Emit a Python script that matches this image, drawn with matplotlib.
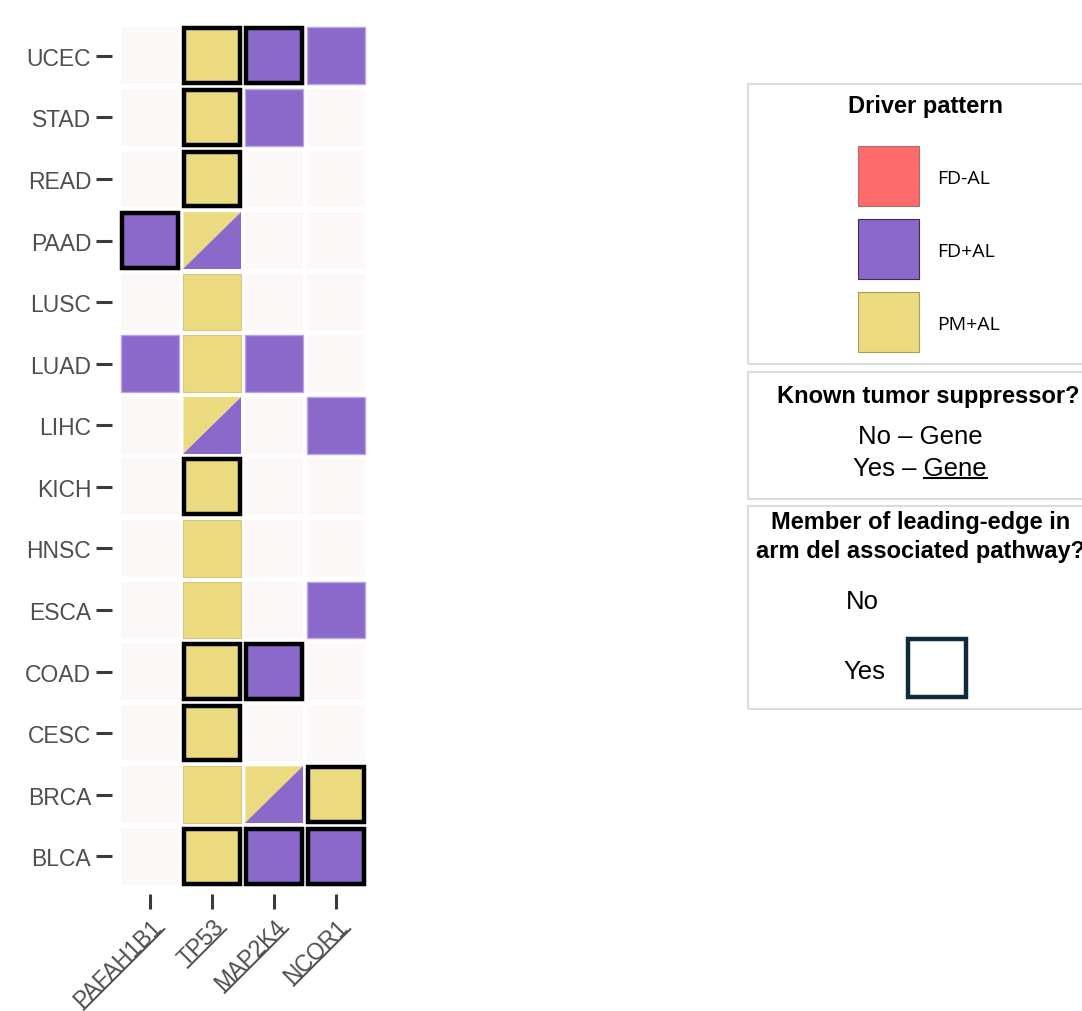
import matplotlib
matplotlib.use("Agg")
import matplotlib.pyplot as plt
from matplotlib.patches import Rectangle, Polygon
from matplotlib.lines import Line2D
import numpy as np

plt.rcParams['font.family'] = ['Liberation Sans', 'DejaVu Sans']

cancer_types = ["UCEC", "STAD", "READ", "PAAD", "LUSC", "LUAD", "LIHC",
                "KICH", "HNSC", "ESCA", "COAD", "CESC", "BRCA", "BLCA"]
genes = ["PAFAH1B1", "TP53", "MAP2K4", "NCOR1"]
tumor_suppressor = [True, True, True, True]

# 0 = none, 1 = FD+AL, 2 = PM+AL, 3 = PM+AL and FD+AL
driver_pattern = [
    [0, 2, 1, 1],  # UCEC
    [0, 2, 1, 0],  # STAD
    [0, 2, 0, 0],  # READ
    [1, 3, 0, 0],  # PAAD
    [0, 2, 0, 0],  # LUSC
    [1, 2, 1, 0],  # LUAD
    [0, 3, 0, 1],  # LIHC
    [0, 2, 0, 0],  # KICH
    [0, 2, 0, 0],  # HNSC
    [0, 2, 0, 1],  # ESCA
    [0, 2, 1, 0],  # COAD
    [0, 2, 0, 0],  # CESC
    [0, 2, 3, 2],  # BRCA
    [0, 2, 1, 1],  # BLCA
]

# 1 = member of leading edge in arm-del associated pathway
leading_edge = [
    [0, 1, 1, 0],
    [0, 1, 0, 0],
    [0, 1, 0, 0],
    [1, 0, 0, 0],
    [0, 0, 0, 0],
    [0, 0, 0, 0],
    [0, 0, 0, 0],
    [0, 1, 0, 0],
    [0, 0, 0, 0],
    [0, 0, 0, 0],
    [0, 1, 1, 0],
    [0, 1, 0, 0],
    [0, 0, 0, 1],
    [0, 1, 1, 1],
]

legend_labels = ["FD-AL", "FD+AL", "PM+AL"]

EMPTY = '#fdf8f8'
RED = '#ff6b6b'
PURPLE = '#8a69cb'
YELLOW = '#ebda80'
TXT = '#4f4f4f'

W, H = 1082, 1012
fig = plt.figure(figsize=(W / 100, H / 100), dpi=100)
fig.patch.set_facecolor('white')
ax = fig.add_axes([119 / W, 1 - 888 / H, 248 / W, 862 / H])

s = 0.92
for i, row in enumerate(driver_pattern):
    for j, v in enumerate(row):
        x0, y0 = j - s / 2, i - s / 2
        if v == 0:
            ax.add_patch(Rectangle((x0, y0), s, s, facecolor=EMPTY, edgecolor='none'))
        elif v == 1:
            ax.add_patch(Rectangle((x0, y0), s, s, facecolor=PURPLE, edgecolor='#b9a6e6', lw=1))
        elif v == 2:
            ax.add_patch(Rectangle((x0, y0), s, s, facecolor=YELLOW, edgecolor='#d6c67c', lw=0.8))
        else:
            ax.add_patch(Polygon([(x0, y0), (x0 + s, y0), (x0, y0 + s)],
                                 closed=True, facecolor=YELLOW, edgecolor='none'))
            ax.add_patch(Polygon([(x0 + s, y0), (x0 + s, y0 + s), (x0, y0 + s)],
                                 closed=True, facecolor=PURPLE, edgecolor='none'))
        if leading_edge[i][j]:
            ax.add_patch(Rectangle((x0 + 0.015, y0 + 0.015), s - 0.03, s - 0.03,
                                   facecolor='none', edgecolor='black', lw=3.2))

ax.set_xlim(-0.5, 3.5)
ax.set_ylim(len(cancer_types) - 0.5, -0.5)
for sp in ax.spines.values():
    sp.set_visible(False)
ax.spines['left'].set_position(('outward', 5))
ax.spines['bottom'].set_position(('outward', 5))
ax.tick_params(axis='y', length=11.5, width=2.2, color='#3a3a3a', pad=3.5,
               labelsize=16.5, labelcolor=TXT)
ax.tick_params(axis='x', length=11, width=2.2, color='#3a3a3a', pad=4,
               labelsize=16.5, labelcolor=TXT)
ax.set_xticks(range(len(genes)))
ax.set_xticklabels(genes)
for lab in ax.get_xticklabels():
    lab.set_rotation(45)
    lab.set_ha('right')
    lab.set_va('top')
    lab.set_rotation_mode('anchor')
ax.set_yticks(range(len(cancer_types)))
ax.set_yticklabels(cancer_types)


def fx(x):
    return x / W


def fy(y):
    return 1 - y / H


def panel(top, bottom):
    fig.add_artist(Rectangle((fx(748), fy(bottom)), fx(1100 - 748), (bottom - top) / H,
                             transform=fig.transFigure, facecolor='none',
                             edgecolor='#dcdcdc', lw=1.5))


# legend panels
panel(85, 365)
panel(373, 500)
panel(507, 710)

fig.text(fx(926), fy(113), "Driver pattern", ha='center', va='baseline',
         fontsize=17, fontweight='bold')
sq_cols = [RED, PURPLE, YELLOW]
sq_edges = ['#a07070', '#3a3050', '#a89a5a']
sq_tops = [147, 220, 293]
for lab, c, ec, t in zip(legend_labels, sq_cols, sq_edges, sq_tops):
    fig.add_artist(Rectangle((fx(858), fy(t + 60)), fx(61), 60 / H,
                             transform=fig.transFigure, facecolor=c,
                             edgecolor=ec, lw=0.8))
    fig.text(fx(937), fy(t + 32), lab, ha='left', va='center',
             fontsize=14, family=['Open Sans', 'DejaVu Sans'])

fig.text(fx(777), fy(403), "Known tumor suppressor?", ha='left', va='baseline',
         fontsize=17, fontweight='bold')
fig.text(fx(920), fy(444), "No – Gene", ha='center', va='baseline', fontsize=18.5)
yes_gene = fig.text(fx(920), fy(476), "Yes – Gene", ha='center', va='baseline', fontsize=18.5)

fig.text(fx(921), fy(529), "Member of leading-edge in", ha='center', va='baseline',
         fontsize=17, fontweight='bold')
fig.text(fx(921), fy(558), "arm del associated pathway?", ha='center', va='baseline',
         fontsize=17, fontweight='bold')
fig.text(fx(846), fy(609), "No", ha='left', va='baseline', fontsize=18.5)
fig.text(fx(843), fy(679), "Yes", ha='left', va='baseline', fontsize=18.5)
fig.add_artist(Rectangle((fx(908), fy(698)), fx(58), 58 / H,
                         transform=fig.transFigure, facecolor='none',
                         edgecolor='#0f2a3a', lw=3.2))

# underlines for tumor-suppressor gene names
fig.canvas.draw()
renderer = fig.canvas.get_renderer()


def add_line(p0, p1, color, lw):
    pts = fig.transFigure.inverted().transform([p0, p1])
    fig.add_artist(Line2D(pts[:, 0], pts[:, 1], color=color, lw=lw,
                          transform=fig.transFigure))


for lab, ts in zip(ax.get_xticklabels(), tumor_suppressor):
    if not ts:
        continue
    fp = lab.get_fontproperties()
    w, _, _ = renderer.get_text_width_height_descent(lab.get_text(), fp, ismath=False)
    _, lh, ld = renderer.get_text_width_height_descent("lp", fp, ismath=False)
    off = (lh - ld) + 0.1 * fp.get_size_in_points() * fig.dpi / 72
    ang = np.deg2rad(lab.get_rotation())
    u = np.array([np.cos(ang), np.sin(ang)])
    v = np.array([np.sin(ang), -np.cos(ang)])
    p = lab.get_transform().transform(lab.get_position())
    right = p + v * off
    add_line(right - u * w, right, TXT, 1.4)

fp = yes_gene.get_fontproperties()
wall, _, _ = renderer.get_text_width_height_descent("Yes – Gene", fp, ismath=False)
wg, _, _ = renderer.get_text_width_height_descent("Gene", fp, ismath=False)
cx, by = fig.transFigure.transform((fx(920), fy(476)))
yu = by - 0.1 * fp.get_size_in_points() * fig.dpi / 72
add_line((cx + wall / 2 - wg, yu), (cx + wall / 2, yu), 'black', 1.5)

fig.savefig("out.png", dpi=100, facecolor='white')
